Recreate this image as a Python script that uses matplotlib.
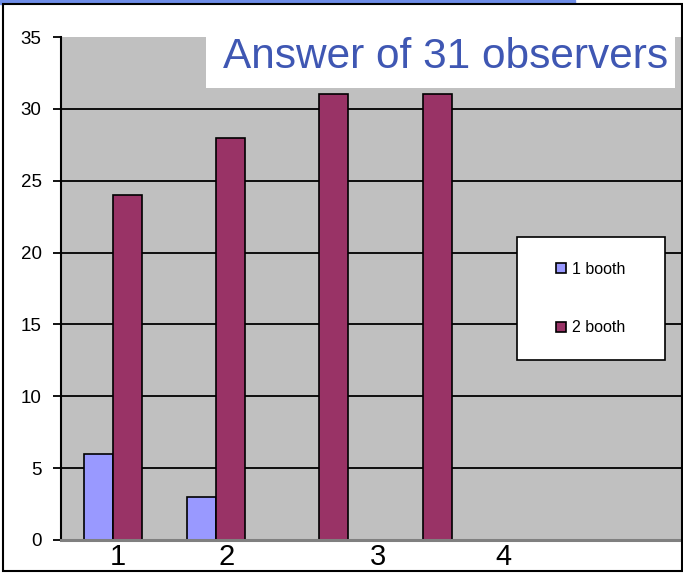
import matplotlib

matplotlib.use("Agg")
import matplotlib.pyplot as plt
import numpy as np
from matplotlib.patches import Rectangle

plt.rcParams["font.family"] = ["Liberation Sans", "DejaVu Sans"]

# data
series = ["1 booth", "2 booth"]
one_booth = [6, 3, 0, 0]
two_booth = [24, 28, 31, 31]
n_slots = 6
y_ticks = [0, 5, 10, 15, 20, 25, 30, 35]
x_labels = ["1", "2", "3", "4"]
x_label_pos = [0.05, 1.10, 2.57, 3.78]
title = "Answer of 31 observers"

COLORS = {"one": "#9999ff", "two": "#993366", "plot": "#c0c0c0", "title": "#3f57b3", "strip": "#6f8ee8"}

W, H = 683, 573
fig = plt.figure(figsize=(W / 100, H / 100), dpi=100)


def px(x0, y0, x1, y1):
    # pixel box (top-left origin) -> figure fraction rect
    return (x0 / W, 1 - y1 / H, (x1 - x0) / W, (y1 - y0) / H)


def box(rect, **kw):
    p = Rectangle(rect[:2], rect[2], rect[3], transform=fig.transFigure, **kw)
    fig.patches.append(p)
    return p


# slide strip and white chart frame (behind the axes)
box(px(0, 0, 575, 4), color=COLORS["strip"], zorder=-2)
frame = px(3, 4, 682, 571)
box(frame, facecolor="white", edgecolor="none", zorder=-1)

ax = fig.add_axes(px(61, 37, 681, 540))
ax.set_facecolor(COLORS["plot"])

x = np.arange(len(two_booth))
w = 0.28
ax.hlines(y_ticks[1:-1], -0.5, n_slots - 0.5, color="black", linewidth=1.3, zorder=1)
ax.bar(x - w / 2, one_booth, w, color=COLORS["one"], edgecolor="black", linewidth=1.2, zorder=2, label=series[0])
ax.bar(x + w / 2, two_booth, w, color=COLORS["two"], edgecolor="black", linewidth=1.2, zorder=2, label=series[1])

ax.set_xlim(-0.5, n_slots - 0.5)
ax.set_ylim(0, 35)
ax.set_yticks(y_ticks)
ax.set_xticks([])
ax.tick_params(axis="y", direction="out", length=6, width=1.3, pad=8, labelsize=13.5, colors="black")
for s in ("top", "right"):
    ax.spines[s].set_visible(False)
ax.spines["left"].set_linewidth(1.5)
ax.spines["left"].set_zorder(3)
ax.spines["bottom"].set_color("#808080")
ax.spines["bottom"].set_linewidth(2.2)
ax.spines["bottom"].set_zorder(3)

for lab, pos in zip(x_labels, x_label_pos):
    ax.text(pos, -0.006, lab, transform=ax.get_xaxis_transform(), ha="center", va="top",
            fontsize=21, clip_on=False)

# title box
box(px(206, 37, 675, 88), facecolor="white", edgecolor="none", zorder=5)
fig.text((224 + 668) / 2 / W, 1 - 57 / H, title, ha="center", va="center", fontsize=30.5,
         color=COLORS["title"], zorder=6)

# legend box
lb = px(517, 237, 665, 360)
box(lb, facecolor="white", edgecolor="black", linewidth=1.2, zorder=5)
leg = fig.legend(loc="center", bbox_to_anchor=(lb[0] + lb[2] / 2, lb[1] + lb[3] / 2), frameon=False,
                 fontsize=11.5, handlelength=0.6, handleheight=0.6, handletextpad=0.4, labelspacing=2.75)
leg.set_zorder(6)

# frame border drawn on top
box(frame, facecolor="none", edgecolor="black", linewidth=1.5, zorder=10)

fig.savefig("out.png", dpi=100)
